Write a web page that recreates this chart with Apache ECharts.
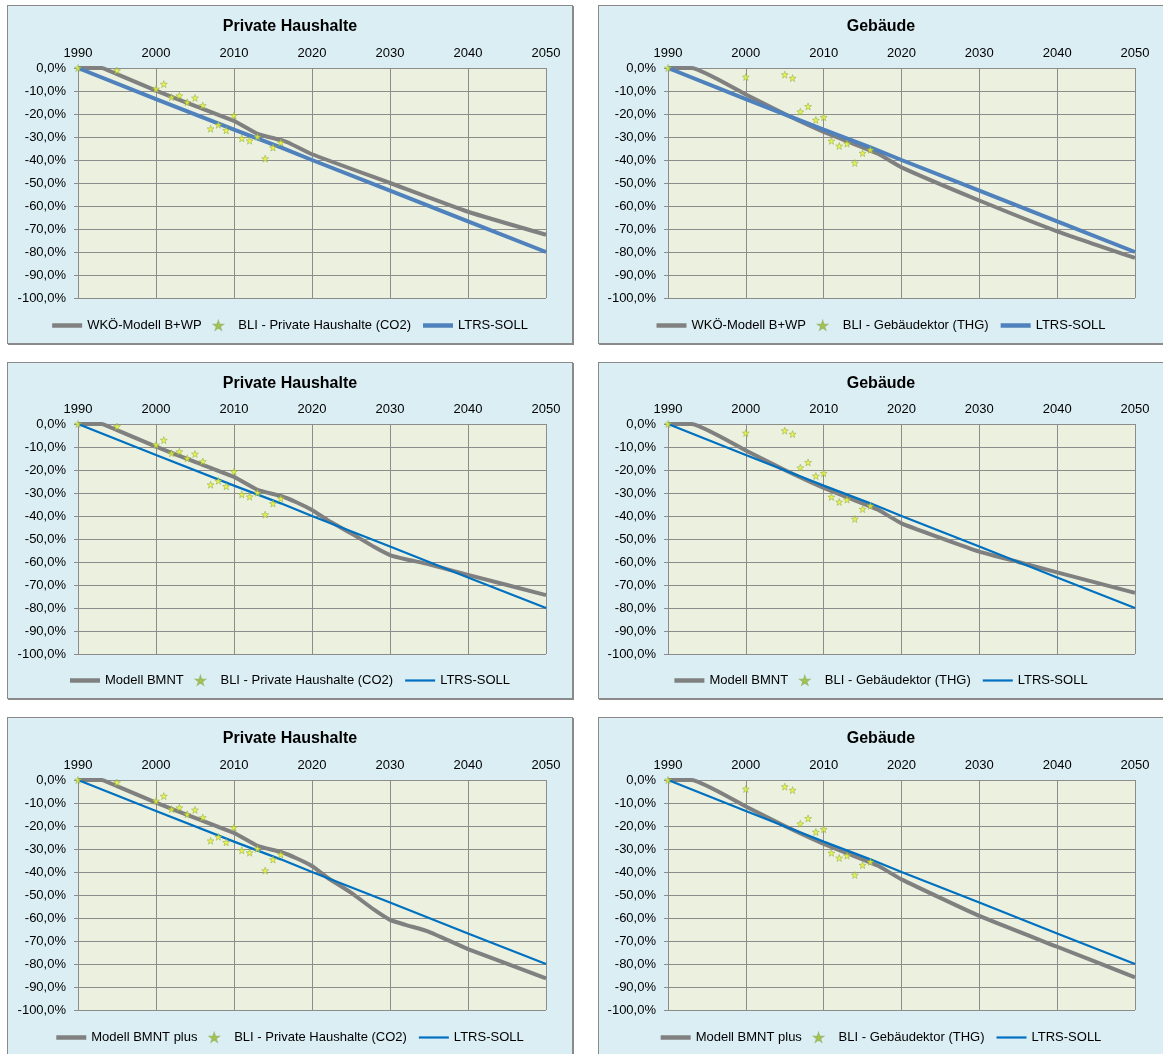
<!DOCTYPE html>
<html>
<head>
<meta charset="utf-8">
<script src="https://cdn.jsdelivr.net/npm/echarts@6/dist/echarts.min.js"></script>
<style>
  html, body { margin: 0; padding: 0; background: #ffffff; width: 1163px; height: 1054px; overflow: hidden; }
  .panel { position: absolute; width: 564px; background: #DBEEF4; border: 1px solid #8a8a8a; box-shadow: 1px 1px 0 #8a8a8a; }
</style>
</head>
<body>
<div id="p1" class="panel" style="left:7px; top:5px; height:337px;"></div>
<div id="p2" class="panel" style="left:598px; top:5px; height:337px;"></div>
<div id="p3" class="panel" style="left:7px; top:362px; height:335px;"></div>
<div id="p4" class="panel" style="left:598px; top:362px; height:335px;"></div>
<div id="p5" class="panel" style="left:7px; top:717px; height:337px;"></div>
<div id="p6" class="panel" style="left:598px; top:717px; height:337px;"></div>
<script>
// ---------------- DATA ----------------
const xTicks = [1990, 2000, 2010, 2020, 2030, 2040, 2050];
const yTicks = [0, -10, -20, -30, -40, -50, -60, -70, -80, -90, -100];

// BLI - Private Haushalte (CO2)
const bliPHYears = [1990, 1995, 2000, 2001, 2002, 2003, 2004, 2005, 2006, 2007, 2008, 2009, 2010, 2011, 2012, 2013, 2014, 2015, 2016];
const bliPHValues = [0, -1.1, -9.1, -7.0, -12.7, -12.0, -14.9, -13.0, -16.3, -26.4, -24.7, -27.1, -20.7, -30.6, -31.6, -29.9, -39.4, -34.6, -32.4];

// BLI - Gebäudektor (THG)
const bliGebYears = [1990, 2000, 2005, 2006, 2007, 2008, 2009, 2010, 2011, 2012, 2013, 2014, 2015, 2016];
const bliGebValues = [0, -3.9, -2.9, -4.4, -19.0, -16.7, -22.6, -21.4, -31.7, -33.9, -32.9, -41.3, -37.0, -35.6];

// LTRS-SOLL
const ltrsYears = [1990, 2000, 2010, 2016, 2020, 2030, 2040, 2050];
const ltrsValues = [0, -13.5, -26.8, -34.5, -40.0, -53.3, -66.7, -80.0];

// WKÖ-Modell B+WP – Private Haushalte
const wkoPHYears = [1990, 1993, 1995, 2000, 2005, 2010, 2013, 2016, 2017, 2020, 2030, 2040, 2050];
const wkoPHValues = [0, 0, -2.7, -9.8, -16.5, -23.0, -28.6, -31.3, -32.5, -37.5, -50.0, -62.5, -72.5];

// WKÖ-Modell B+WP – Gebäude
const wkoGebYears = [1990, 1993, 2000, 2005, 2010, 2015, 2017, 2020, 2030, 2040, 2050];
const wkoGebValues = [0, 0, -11.5, -20.0, -27.8, -34.5, -37.3, -43.2, -57.6, -71.0, -82.6];

// Modell BMNT – Private Haushalte
const bmntPHYears = [1990, 1993, 1995, 2000, 2005, 2010, 2013, 2016, 2018, 2020, 2022, 2025, 2028, 2030, 2032, 2035, 2040, 2050];
const bmntPHValues = [0, 0, -2.7, -9.8, -16.5, -23.0, -28.6, -31.3, -34.0, -37.4, -41.8, -47.5, -53.5, -57.0, -58.8, -61.0, -65.6, -74.4];

// Modell BMNT – Gebäude
const bmntGebYears = [1990, 1993, 2000, 2005, 2010, 2015, 2017, 2020, 2025, 2030, 2035, 2040, 2050];
const bmntGebValues = [0, 0, -11.5, -20.0, -27.8, -34.5, -37.3, -43.2, -49.5, -55.5, -60.0, -64.5, -73.4];

// Modell BMNT plus – Private Haushalte
const bmntPlusPHYears = [1990, 1993, 1995, 2000, 2005, 2010, 2013, 2016, 2018, 2020, 2022, 2025, 2028, 2030, 2032, 2035, 2040, 2050];
const bmntPlusPHValues = [0, 0, -2.7, -9.8, -16.5, -23.0, -28.6, -31.3, -34.0, -37.4, -42.5, -49.0, -56.5, -60.8, -63.0, -66.0, -73.5, -86.2];

// Modell BMNT plus – Gebäude
const bmntPlusGebYears = [1990, 1993, 2000, 2005, 2010, 2015, 2017, 2020, 2030, 2040, 2050];
const bmntPlusGebValues = [0, 0, -11.5, -20.0, -27.8, -34.5, -37.3, -43.2, -59.1, -72.5, -85.8];

const titles = ['Private Haushalte', 'Gebäude', 'Private Haushalte', 'Gebäude', 'Private Haushalte', 'Gebäude'];
const modelNames = ['WKÖ-Modell B+WP', 'WKÖ-Modell B+WP', 'Modell BMNT', 'Modell BMNT', 'Modell BMNT plus', 'Modell BMNT plus'];
const bliNames = ['BLI - Private Haushalte (CO2)', 'BLI - Gebäudektor (THG)', 'BLI - Private Haushalte (CO2)', 'BLI - Gebäudektor (THG)', 'BLI - Private Haushalte (CO2)', 'BLI - Gebäudektor (THG)'];
const ltrsName = 'LTRS-SOLL';

// ---------------- BUILD ----------------
function pairs(xs, ys) { return xs.map((x, i) => [x, ys[i]]); }

const modelData = [
  pairs(wkoPHYears, wkoPHValues),
  pairs(wkoGebYears, wkoGebValues),
  pairs(bmntPHYears, bmntPHValues),
  pairs(bmntGebYears, bmntGebValues),
  pairs(bmntPlusPHYears, bmntPlusPHValues),
  pairs(bmntPlusGebYears, bmntPlusGebValues)
];
const bliData = [
  pairs(bliPHYears, bliPHValues), pairs(bliGebYears, bliGebValues),
  pairs(bliPHYears, bliPHValues), pairs(bliGebYears, bliGebValues),
  pairs(bliPHYears, bliPHValues), pairs(bliGebYears, bliGebValues)
];
const ltrsData = pairs(ltrsYears, ltrsValues);

const STAR = 'path://M50,0 L61.8,35.1 L98.5,35.1 L68.8,56.8 L79.8,91.5 L50,70 L20.2,91.5 L31.2,56.8 L1.5,35.1 L38.2,35.1 Z';
const BAR_THICK = 'path://M0,0 H30 V4.5 H0 Z';
const BAR_THIN = 'path://M0,0 H30 V2.2 H0 Z';
const FONT = 'Liberation Sans, Arial, sans-serif';
const GRID_C = '#8c8c8c';

const gridPos = [
  {left: 70, right: 26, top: 62, bottom: 45},
  {left: 69, right: 28, top: 62, bottom: 45},
  {left: 70, right: 26, top: 61, bottom: 44},
  {left: 69, right: 28, top: 61, bottom: 44},
  {left: 70, right: 26, top: 62, bottom: 45},
  {left: 69, right: 28, top: 62, bottom: 45}
];

for (let i = 0; i < 6; i++) {
  const row1 = i < 2;
  const blue = row1 ? '#4F81BD' : '#0070C0';
  const blueW = row1 ? 4 : 2.2;
  const chart = echarts.init(document.getElementById('p' + (i + 1)), null, {renderer: 'canvas'});
  chart.setOption({
    animation: false,
    backgroundColor: 'transparent',
    title: {
      text: titles[i], left: 'center', top: 8,
      textStyle: {fontFamily: FONT, fontSize: 16, fontWeight: 'bold', color: '#000'}
    },
    legend: {
      bottom: 6, left: 'center', itemWidth: 30, itemHeight: 7, itemGap: 12,
      textStyle: {fontFamily: FONT, fontSize: 13, color: '#000'},
      data: [
        {name: modelNames[i], icon: BAR_THICK},
        {name: bliNames[i], icon: STAR},
        {name: ltrsName, icon: row1 ? BAR_THICK : BAR_THIN}
      ]
    },
    grid: Object.assign({show: true, backgroundColor: '#EBF1DE', borderWidth: 0}, gridPos[i]),
    xAxis: {
      type: 'value', position: 'top', min: xTicks[0], max: xTicks[xTicks.length - 1], interval: 10,
      axisLine: {show: false},
      axisTick: {show: false},
      axisLabel: {margin: 8, color: '#000', fontFamily: FONT, fontSize: 13, formatter: v => String(v)},
      splitLine: {show: true, lineStyle: {color: GRID_C, width: 1}}
    },
    yAxis: {
      type: 'value', min: yTicks[yTicks.length - 1], max: yTicks[0], interval: 10,
      axisLine: {show: true, onZero: false, lineStyle: {color: GRID_C, width: 1}},
      axisTick: {show: true, length: 4, lineStyle: {color: GRID_C}},
      axisLabel: {margin: 12, color: '#000', fontFamily: FONT, fontSize: 13,
        formatter: v => (Math.abs(v) < 1e-9 ? 0 : v).toFixed(1).replace('.', ',') + '%'},
      splitLine: {show: true, lineStyle: {color: GRID_C, width: 1}}
    },
    series: [
      {
        name: modelNames[i], type: 'line', data: modelData[i], showSymbol: false, symbol: 'none',
        smooth: 0.15, lineStyle: {color: '#808080', width: 4}, itemStyle: {color: '#808080'}, z: 2
      },
      {
        name: ltrsName, type: 'line', data: ltrsData, showSymbol: false, symbol: 'none',
        lineStyle: {color: blue, width: blueW}, itemStyle: {color: blue}, z: 3
      },
      {
        name: bliNames[i], type: 'scatter', data: bliData[i], symbol: STAR, symbolSize: 7,
        itemStyle: {color: '#F2F22A', borderColor: '#8DB04A', borderWidth: 0.7}, z: 5
      }
    ]
  });
}
</script>
</body>
</html>
